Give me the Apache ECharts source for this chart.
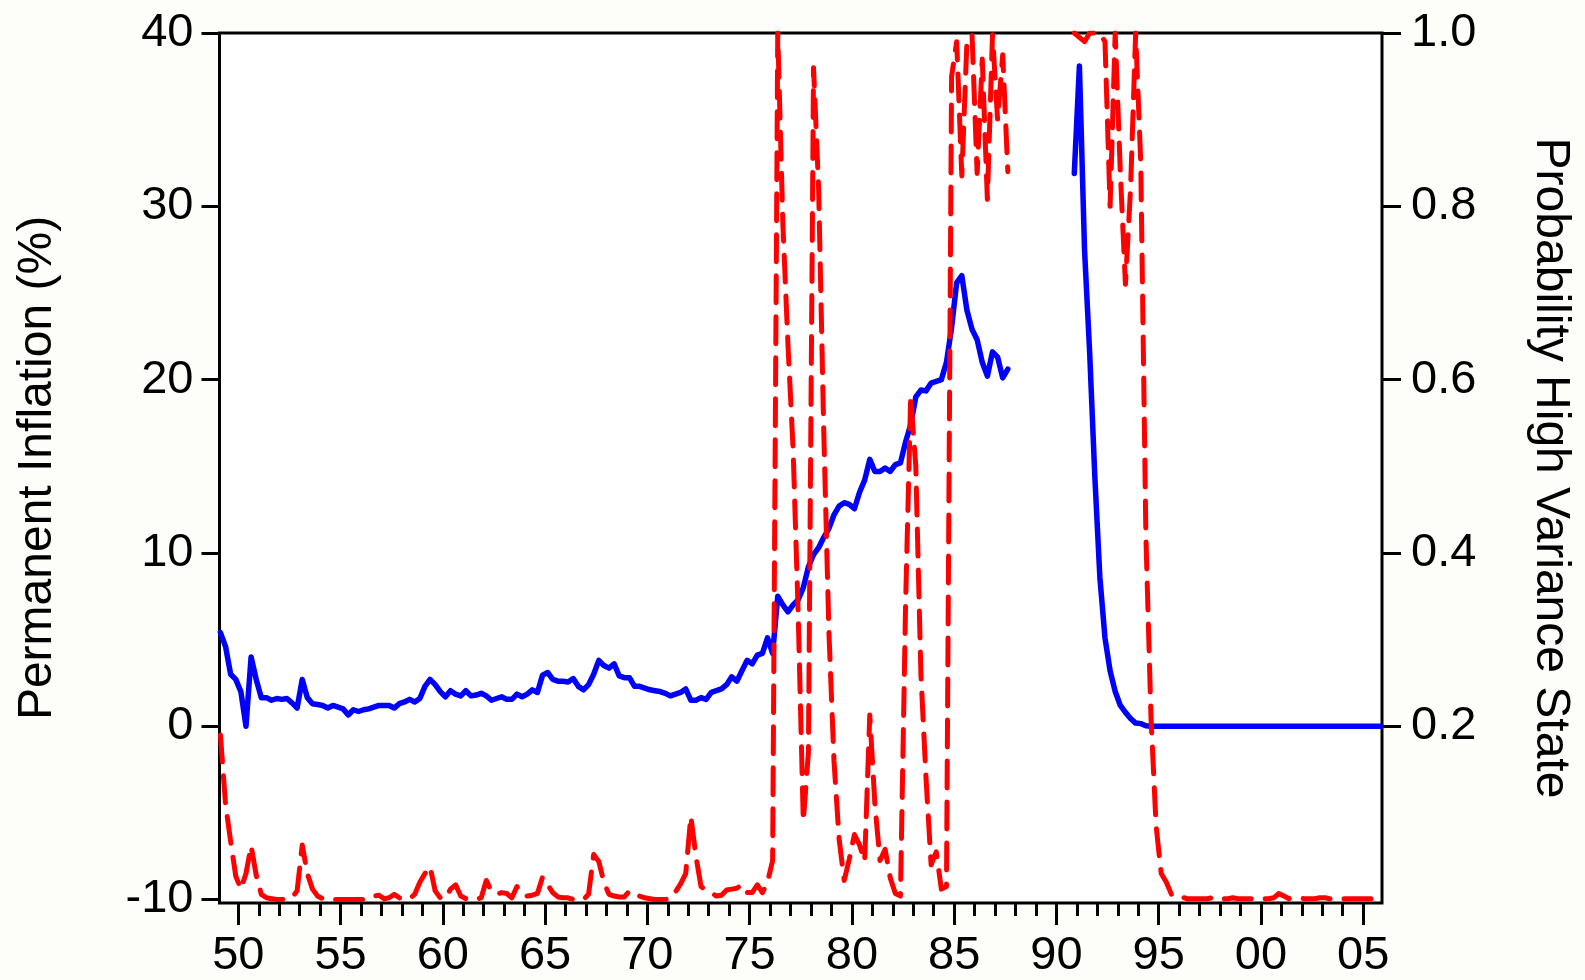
<!DOCTYPE html>
<html>
<head>
<meta charset="utf-8">
<script src="https://cdn.jsdelivr.net/npm/echarts@6/dist/echarts.min.js"></script>
<style>
html,body{margin:0;padding:0;background:#fdfdf9;}
#chart{width:1585px;height:980px;}
</style>
</head>
<body>
<div id="chart"></div>
<script>
// Quarterly observations, first one is 1949Q1
const startYear = 1949;

// Permanent inflation (%) – left axis
const inflation = [
  5.4, 4.6, 3.0, 2.7, 2.0, 0.0, 4.0, 2.7, 1.65, 1.65,
  1.5, 1.6, 1.55, 1.6, 1.35, 1.05, 2.7, 1.65, 1.3, 1.25,
  1.2, 1.05, 1.2, 1.1, 1.0, 0.65, 0.95, 0.85, 0.95, 1.0,
  1.1, 1.2, 1.2, 1.2, 1.05, 1.3, 1.4, 1.55, 1.4, 1.6,
  2.3, 2.7, 2.4, 2.0, 1.7, 2.05, 1.85, 1.75, 2.05, 1.75,
  1.8, 1.9, 1.75, 1.5, 1.6, 1.7, 1.55, 1.55, 1.85, 1.7,
  1.85, 2.1, 1.95, 2.95, 3.1, 2.7, 2.6, 2.6, 2.55, 2.75,
  2.3, 2.1, 2.4, 3.0, 3.8, 3.5, 3.35, 3.6, 2.9, 2.8,
  2.8, 2.3, 2.3, 2.2, 2.1, 2.05, 2.0, 1.9, 1.75, 1.85,
  1.95, 2.15, 1.5, 1.5, 1.65, 1.55, 1.95, 2.05, 2.15, 2.4,
  2.85, 2.6, 3.2, 3.8, 3.6, 4.1, 4.2, 5.1, 4.2, 7.5,
  7.0, 6.6, 7.0, 7.3, 8.0, 9.2, 9.9, 10.3, 10.9, 11.4,
  12.2, 12.7, 12.9, 12.8, 12.55, 13.5, 14.2, 15.4, 14.7, 14.7,
  14.9, 14.7, 15.1, 15.2, 16.4, 17.4, 19.0, 19.4, 19.35, 19.8,
  19.9, 20.0, 21.0, 23.0, 25.6, 26.0, 24.0, 22.9, 22.3, 21.0,
  20.2, 21.6, 21.3, 20.1, 20.6, null, null, null, null, null,
  null, null, null, null, null, null, null, 31.9, 38.1, 27.5,
  21.6, 14.5, 8.6, 5.1, 3.2, 2.0, 1.2, 0.8, 0.45, 0.18,
  0.15, 0.03, 0, 0, 0, 0, 0, 0, 0, 0,
  0, 0, 0, 0, 0, 0, 0, 0, 0, 0,
  0, 0, 0, 0, 0, 0, 0, 0, 0, 0,
  0, 0, 0, 0, 0, 0, 0, 0, 0, 0,
  0, 0, 0, 0, 0, 0, 0, 0
];

// Probability of the high variance state – right axis
const probability = [
  0.19, 0.11, 0.067, 0.027, 0.012, 0.03, 0.062, 0.028, 0.006, 0.002,
  0.001, 0, 0, 0.001, 0.002, 0.01, 0.063, 0.03, 0.012, 0.004,
  0.001, 0, 0, 0, 0, 0, 0, 0, 0, 0.001,
  0.004, 0.005, 0.001, 0.002, 0.006, 0.002, 0, 0.001, 0.006, 0.02,
  0.03, 0.038, 0.01, 0.002, 0.001, 0.012, 0.017, 0.004, 0.001, 0,
  0, 0.002, 0.022, 0.01, 0.006, 0.008, 0.007, 0.002, 0.015, 0.006,
  0.004, 0.005, 0.007, 0.026, 0.017, 0.008, 0.003, 0.002, 0.002, 0,
  0, 0, 0.006, 0.052, 0.044, 0.02, 0.006, 0.004, 0.003, 0.003,
  0.01, 0.006, 0.004, 0.002, 0.001, 0, 0, 0, 0.001, 0.009,
  0.018, 0.03, 0.096, 0.05, 0.015, 0.011, 0.008, 0.004, 0.005, 0.011,
  0.012, 0.013, 0.017, 0.008, 0.008, 0.017, 0.008, 0.02, 0.045, 1.0,
  0.78, 0.64, 0.52, 0.33, 0.09, 0.17, 0.96, 0.82, 0.54, 0.31,
  0.16, 0.07, 0.022, 0.047, 0.075, 0.063, 0.044, 0.213, 0.11, 0.045,
  0.058, 0.025, 0.007, 0.004, 0.34, 0.58, 0.5, 0.26, 0.14, 0.04,
  0.055, 0.012, 0.015, 0.95, 0.99, 0.835, 0.99, 0.998, 0.838, 0.97,
  0.808, 0.998, 0.9, 0.975, 0.84, null, null, null, null, null,
  null, null, null, null, null, null, null, 1.0, 0.995, 0.99,
  1.0, 1.0, 1.0, 0.99, 0.80, 1.0, 0.84, 0.71, 0.82, 1.0,
  0.85, 0.42, 0.21, 0.085, 0.03, 0.02, 0.006, 0.002, 0.003, 0.001,
  0.001, 0.001, 0.001, 0.001, 0.002, 0.003, 0.001, 0.001, 0.002, 0.001,
  0.001, 0.001, 0.001, 0.001, 0.001, 0.001, 0.002, 0.007, 0.004, 0.001,
  0.002, 0.002, 0.001, 0.001, 0.001, 0.002, 0.002, 0.001, 0.001, 0.001,
  0.001, 0.001, 0.001, 0.001, 0.001, 0.001, 0.001, 0.001
];

// Axis ticks / labels
const yearTicks = [1950,1951,1952,1953,1954,1955,1956,1957,1958,1959,1960,1961,1962,1963,1964,1965,1966,1967,1968,1969,1970,1971,1972,1973,1974,1975,1976,1977,1978,1979,1980,1981,1982,1983,1984,1985,1986,1987,1988,1989,1990,1991,1992,1993,1994,1995,1996,1997,1998,1999,2000,2001,2002,2003,2004,2005];
const yearLabels = [1950,1955,1960,1965,1970,1975,1980,1985,1990,1995,2000,2005];
const leftTicks = [-10, 0, 10, 20, 30, 40];
const rightTicks = [0.2, 0.4, 0.6, 0.8, 1.0];

const leftTitle = 'Permanent Inflation (%)';
const rightTitle = 'Probability High Variance State';

// time position of each quarterly observation (middle of the quarter)
function toPairs(arr) {
  return arr.map((v, i) => [startYear + i / 4 + 0.125, v]);
}

const FONT = '"Liberation Sans", Arial, sans-serif';
const X_MIN = 1949.08, X_MAX = 2005.92;
const L_MIN = -10.2, L_MAX = 40;
const R_MIN = (L_MIN + 10) / 50, R_MAX = 1.0;

const chart = echarts.init(document.getElementById('chart'), null, {renderer: 'canvas'});
const option = {
  animation: false,
  backgroundColor: '#fdfdf9',
  textStyle: {fontFamily: FONT, color: '#000'},
  grid: {
    left: 219.5, right: 203, top: 33, bottom: 75,
    show: true, borderColor: '#000', borderWidth: 3, backgroundColor: '#ffffff'
  },
  xAxis: [
    {
      type: 'value', position: 'bottom', min: X_MIN, max: X_MAX,
      axisLine: {show: false, onZero: false}, splitLine: {show: false},
      axisTick: {show: true, customValues: yearTicks, length: 13, lineStyle: {color: '#000', width: 3}},
      axisLabel: {show: false}
    },
    {
      type: 'value', position: 'bottom', min: X_MIN, max: X_MAX,
      axisLine: {show: false, onZero: false}, splitLine: {show: false},
      axisTick: {show: true, customValues: yearLabels, length: 22, lineStyle: {color: '#000', width: 3}},
      axisLabel: {
        show: true, customValues: yearLabels, margin: 30,
        fontSize: 47, color: '#000', fontFamily: FONT,
        formatter: v => String(Math.round(v) % 100).padStart(2, '0')
      }
    }
  ],
  yAxis: [
    {
      type: 'value', position: 'left', min: L_MIN, max: L_MAX,
      axisLine: {show: false, onZero: false}, splitLine: {show: false},
      axisTick: {show: true, customValues: leftTicks, length: 18, lineStyle: {color: '#000', width: 3}},
      axisLabel: {customValues: leftTicks, margin: 26, fontSize: 47, color: '#000', fontFamily: FONT,
        formatter: v => String(Math.round(v))},
      name: leftTitle, nameLocation: 'middle', nameRotate: 90, nameGap: 158,
      nameTextStyle: {fontSize: 48, color: '#000', fontFamily: FONT}
    },
    {
      type: 'value', position: 'right', min: R_MIN, max: R_MAX,
      axisLine: {show: false, onZero: false}, splitLine: {show: false},
      axisTick: {show: true, customValues: rightTicks, length: 19, lineStyle: {color: '#000', width: 3}},
      axisLabel: {customValues: rightTicks, margin: 29, fontSize: 47, color: '#000', fontFamily: FONT,
        formatter: v => v.toFixed(1)},
      name: rightTitle, nameLocation: 'middle', nameRotate: -90, nameGap: 144,
      nameTextStyle: {fontSize: 48, color: '#000', fontFamily: FONT}
    }
  ],
  series: [
    {
      name: 'Permanent Inflation', type: 'line', xAxisIndex: 0, yAxisIndex: 0,
      data: toPairs(inflation), showSymbol: false, connectNulls: false, z: 2,
      lineStyle: {color: '#0000ff', width: 5.5, cap: 'round', join: 'round'}
    },
    {
      name: 'Probability High Variance State', type: 'line', xAxisIndex: 0, yAxisIndex: 1,
      data: toPairs(probability), showSymbol: false, connectNulls: false, z: 3,
      lineStyle: {color: '#ff0000', width: 5, type: [27, 14], cap: 'round', join: 'round'}
    }
  ]
};
chart.setOption(option);
</script>
</body>
</html>
